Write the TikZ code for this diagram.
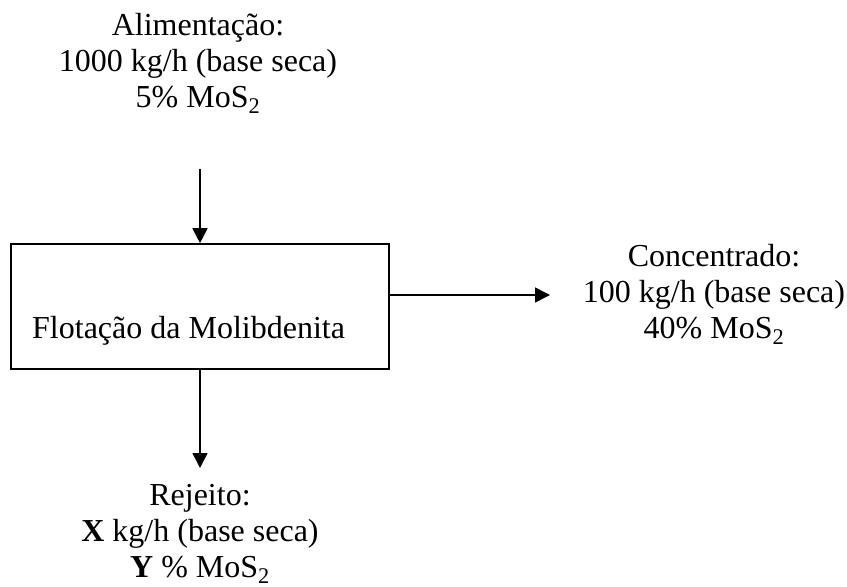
\documentclass[tikz,border=0pt]{standalone}
\usepackage{fontspec}
\setmainfont{Liberation Serif}
\usetikzlibrary{arrows.meta}
\begin{document}
\begin{tikzpicture}[x=1pt,y=-1pt,
  txt/.style={align=center,font=\fontsize{32}{36}\selectfont,inner sep=0pt},
  flow/.style={line width=1.6pt,-{Triangle[length=15pt,width=15pt]}},
  boxst/.style={draw,line width=1.6pt,minimum width=378pt,minimum height=125pt,inner sep=0pt}]
\useasboundingbox (0,0) rectangle (847,587);
\node[boxst] (box) at (200,306.5) {};
\node[txt,anchor=base west] (lbl) at (32,338) {Flotação da Molibdenita};
\node[txt,anchor=base] (feed) at (198,107.7) {Alimentação:\\1000 kg/h (base seca)\\5\% MoS\textsubscript{2}};
\node[txt,anchor=base] (conc) at (714,338) {Concentrado:\\100 kg/h (base seca)\\40\% MoS\textsubscript{2}};
\node[txt,anchor=base] (rej) at (200,577) {Rejeito:\\\textbf{X} kg/h (base seca)\\\textbf{Y} \% MoS\textsubscript{2}};
\coordinate (feedend) at (200,169);
\coordinate (conctip) at (550,295);
\coordinate (rejtip) at (200,468);
\draw[flow] (feedend) -- (box.north);
\draw[flow] (box.east |- conctip) -- (conctip);
\draw[flow] (box.south) -- (rejtip);
\end{tikzpicture}
\end{document}
